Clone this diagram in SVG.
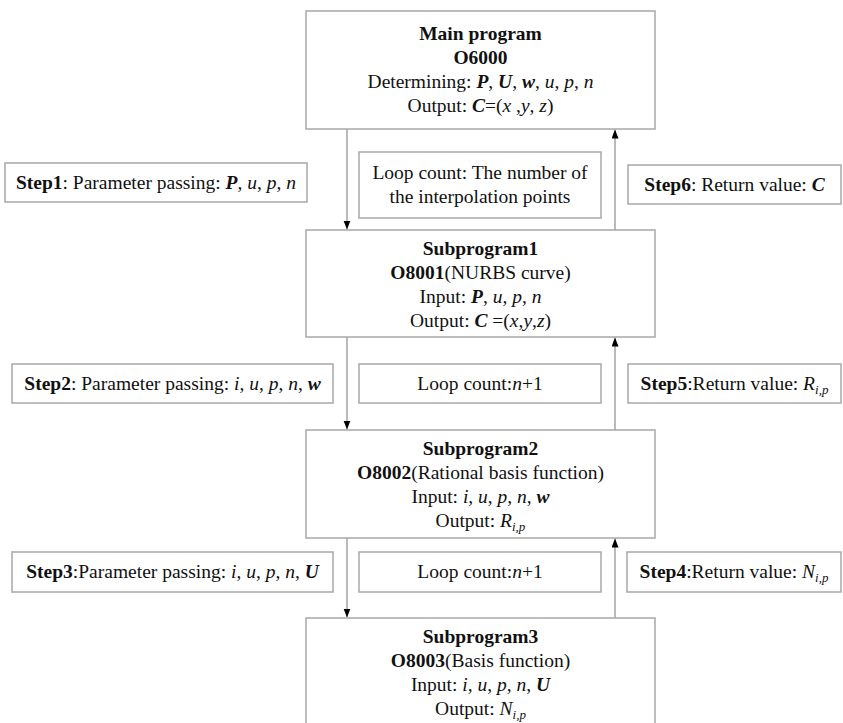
<svg xmlns="http://www.w3.org/2000/svg" width="843" height="723" viewBox="0 0 843 723">
<style>
text{font-family:"Liberation Serif","Times New Roman",serif;font-size:19.5px;fill:#111;}
.c{text-anchor:middle;}
.b{font-weight:bold;}
.i{font-style:italic;}
.bi{font-weight:bold;font-style:italic;}
.box{fill:#fff;stroke:#a8a8a8;stroke-width:1.5;}
.ln{stroke:#8c8c8c;stroke-width:1.2;fill:none;marker-end:url(#ah);}
.sub{font-size:13px;font-style:italic;}
</style>
<defs>
<marker id="ah" markerUnits="userSpaceOnUse" markerWidth="10" markerHeight="8" refX="9" refY="3.5" orient="auto">
<path d="M0,0 L9,3.5 L0,7 z" fill="#000"/>
</marker>
</defs>
<rect width="843" height="723" fill="#fff"/>
<g id="connectors">
<line class="ln" x1="347" y1="129" x2="347" y2="229.5"/>
<line class="ln" x1="615" y1="230" x2="615" y2="129.5"/>
<line class="ln" x1="347" y1="337" x2="347" y2="429.5"/>
<line class="ln" x1="615" y1="430" x2="615" y2="337.5"/>
<line class="ln" x1="347" y1="538" x2="347" y2="617.5"/>
<line class="ln" x1="615" y1="618" x2="615" y2="538.5"/>
</g>
<g id="main">
<rect class="box" x="306" y="11" width="349" height="118"/>
<text class="c b" x="480.5" y="40">Main program</text>
<text class="c b" x="480.5" y="64">O6000</text>
<text class="c" x="480.5" y="88">Determining: <tspan class="bi">P</tspan>, <tspan class="bi">U</tspan>, <tspan class="bi">w</tspan>, <tspan class="i">u</tspan>, <tspan class="i">p</tspan>, <tspan class="i">n</tspan></text>
<text class="c" x="480.5" y="112">Output: <tspan class="bi">C</tspan>=(<tspan class="i">x</tspan> ,<tspan class="i">y</tspan>, <tspan class="i">z</tspan>)</text>
</g>
<g id="step1">
<rect class="box" x="5" y="163" width="302" height="39"/>
<text class="c" x="156" y="189"><tspan class="b">Step1</tspan>: Parameter passing: <tspan class="bi">P</tspan>, <tspan class="i">u</tspan>, <tspan class="i">p</tspan>, <tspan class="i">n</tspan></text>
</g>
<g id="loop1">
<rect class="box" x="359" y="152" width="242" height="66"/>
<text class="c" x="480" y="179">Loop count: The number of</text>
<text class="c" x="480" y="203">the interpolation points</text>
</g>
<g id="step6">
<rect class="box" x="628" y="165" width="213" height="39"/>
<text class="c" x="734.5" y="191"><tspan class="b">Step6</tspan>: Return value: <tspan class="bi">C</tspan></text>
</g>
<g id="sub1">
<rect class="box" x="306" y="230" width="349" height="107"/>
<text class="c b" x="480.5" y="255">Subprogram1</text>
<text class="c" x="480.5" y="279"><tspan class="b">O8001</tspan>(NURBS curve)</text>
<text class="c" x="480.5" y="303">Input: <tspan class="bi">P</tspan>, <tspan class="i">u</tspan>, <tspan class="i">p</tspan>, <tspan class="i">n</tspan></text>
<text class="c" x="480.5" y="327">Output: <tspan class="bi">C</tspan> =(<tspan class="i">x</tspan>,<tspan class="i">y</tspan>,<tspan class="i">z</tspan>)</text>
</g>
<g id="step2">
<rect class="box" x="12" y="364" width="321" height="39"/>
<text class="c" x="172.5" y="390"><tspan class="b">Step2</tspan>: Parameter passing: <tspan class="i">i</tspan>, <tspan class="i">u</tspan>, <tspan class="i">p</tspan>, <tspan class="i">n</tspan>, <tspan class="bi">w</tspan></text>
</g>
<g id="loop2">
<rect class="box" x="359" y="364" width="242" height="39"/>
<text class="c" x="480" y="390">Loop count:<tspan class="i">n</tspan>+1</text>
</g>
<g id="step5">
<rect class="box" x="628" y="364" width="213" height="39"/>
<text class="c" x="734.5" y="390"><tspan class="b">Step5</tspan>:Return value: <tspan class="i">R</tspan><tspan class="sub" dy="4">i,p</tspan></text>
</g>
<g id="sub2">
<rect class="box" x="306" y="430" width="349" height="108"/>
<text class="c b" x="480.5" y="455">Subprogram2</text>
<text class="c" x="480.5" y="479"><tspan class="b">O8002</tspan>(Rational basis function)</text>
<text class="c" x="480.5" y="503">Input: <tspan class="i">i</tspan>, <tspan class="i">u</tspan>, <tspan class="i">p</tspan>, <tspan class="i">n</tspan>, <tspan class="bi">w</tspan></text>
<text class="c" x="480.5" y="527">Output: <tspan class="i">R</tspan><tspan class="sub" dy="4">i,p</tspan></text>
</g>
<g id="step3">
<rect class="box" x="12" y="552" width="321" height="40"/>
<text class="c" x="172.5" y="578"><tspan class="b">Step3</tspan>:Parameter passing: <tspan class="i">i</tspan>, <tspan class="i">u</tspan>, <tspan class="i">p</tspan>, <tspan class="i">n</tspan>, <tspan class="bi">U</tspan></text>
</g>
<g id="loop3">
<rect class="box" x="359" y="552" width="242" height="40"/>
<text class="c" x="480" y="578">Loop count:<tspan class="i">n</tspan>+1</text>
</g>
<g id="step4">
<rect class="box" x="627" y="552" width="214" height="40"/>
<text class="c" x="734" y="578"><tspan class="b">Step4</tspan>:Return value: <tspan class="i">N</tspan><tspan class="sub" dy="4">i,p</tspan></text>
</g>
<g id="sub3">
<rect class="box" x="306" y="618" width="349" height="120"/>
<text class="c b" x="480.5" y="643">Subprogram3</text>
<text class="c" x="480.5" y="667"><tspan class="b">O8003</tspan>(Basis function)</text>
<text class="c" x="480.5" y="691">Input: <tspan class="i">i</tspan>, <tspan class="i">u</tspan>, <tspan class="i">p</tspan>, <tspan class="i">n</tspan>, <tspan class="bi">U</tspan></text>
<text class="c" x="480.5" y="715">Output: <tspan class="i">N</tspan><tspan class="sub" dy="4">i,p</tspan></text>
</g>
</svg>
